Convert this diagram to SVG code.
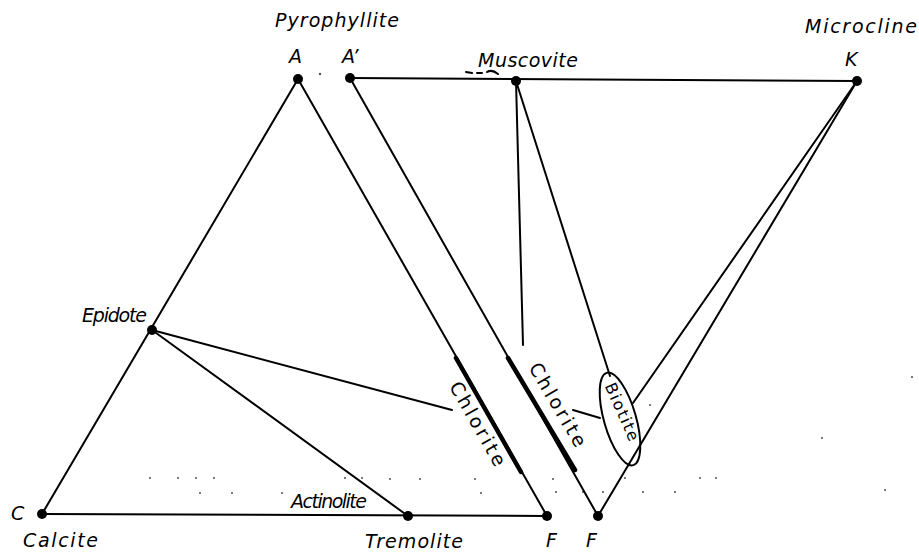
<svg xmlns="http://www.w3.org/2000/svg" width="919" height="553" viewBox="0 0 919 553">
<style>
.ln{stroke:#000;stroke-width:2;fill:none;stroke-linecap:round}
.thk{stroke:#000;stroke-width:4.5;fill:none;stroke-linecap:round}
.dot{fill:#000}
.spk{fill:#000;opacity:0.7}
text{font-family:"DejaVu Sans","Liberation Sans",sans-serif;font-style:oblique;font-size:19px;fill:#000}
.up{font-style:normal}
</style>
<rect width="919" height="553" fill="#fff"/>
<g id="connectors">
<line class="ln" x1="298" y1="79" x2="42" y2="514"/>
<line class="ln" x1="298" y1="79" x2="547" y2="516"/>
<line class="ln" x1="42" y1="514" x2="547" y2="516"/>
<line class="ln" x1="152" y1="330" x2="408" y2="516"/>
<line class="ln" x1="152" y1="330" x2="452" y2="410"/>
<line class="thk" x1="456" y1="358" x2="521" y2="472"/>
<line class="ln" x1="350" y1="78" x2="857" y2="81"/>
<line class="ln" x1="350" y1="78" x2="598" y2="516"/>
<line class="thk" x1="508" y1="358" x2="575" y2="470"/>
<line class="ln" x1="516" y1="81" x2="523" y2="345"/>
<line class="ln" x1="516" y1="81" x2="610" y2="376"/>
<line class="ln" x1="857" y1="81" x2="598" y2="516"/>
<line class="ln" x1="857" y1="81" x2="633" y2="403"/>
<line class="ln" x1="573" y1="410" x2="600" y2="418"/>
<path class="ln" d="M466 72 L472 73 M477 73 L482 73 M487 72 Q492 69 498 74" stroke-width="1.5"/>
</g>
<g id="specks">
<circle class="spk" cx="320" cy="74" r="1.2"/>
<circle class="spk" cx="150" cy="478" r="1"/><circle class="spk" cx="178" cy="478" r="1"/><circle class="spk" cx="196" cy="478" r="1"/><circle class="spk" cx="214" cy="478" r="1"/><circle class="spk" cx="345" cy="478" r="1"/><circle class="spk" cx="362" cy="478" r="1"/><circle class="spk" cx="390" cy="479" r="1"/><circle class="spk" cx="420" cy="479" r="1"/><circle class="spk" cx="475" cy="479" r="1"/><circle class="spk" cx="553" cy="479" r="1"/><circle class="spk" cx="625" cy="478" r="1"/><circle class="spk" cx="700" cy="478" r="1"/><circle class="spk" cx="716" cy="478" r="1"/>
<circle class="spk" cx="200" cy="493" r="1"/><circle class="spk" cx="232" cy="493" r="1"/><circle class="spk" cx="282" cy="493" r="1"/><circle class="spk" cx="481" cy="493" r="1"/><circle class="spk" cx="556" cy="492" r="1"/><circle class="spk" cx="583" cy="492" r="1"/><circle class="spk" cx="643" cy="492" r="1"/><circle class="spk" cx="675" cy="492" r="1"/><circle class="spk" cx="822" cy="438" r="1"/><circle class="spk" cx="912" cy="377" r="1"/><circle class="spk" cx="885" cy="490" r="1"/><circle class="spk" cx="650" cy="405" r="1"/><circle class="spk" cx="603" cy="492" r="1"/>
</g>
<g id="A"><circle class="dot" cx="298" cy="79" r="5"/><text x="289" y="63">A</text><text x="275" y="27" textLength="124">Pyrophyllite</text></g>
<g id="A2"><circle class="dot" cx="350" cy="78" r="5"/><text x="342" y="63">A’</text></g>
<g id="K"><circle class="dot" cx="857" cy="81" r="5"/><text x="845" y="66">K</text><text x="805" y="33" textLength="112">Microcline</text></g>
<g id="Muscovite"><circle class="dot" cx="516" cy="81" r="5"/><text x="478" y="67" textLength="100">Muscovite</text></g>
<g id="Epidote"><circle class="dot" cx="152" cy="330" r="5"/><text x="82" y="322" textLength="65">Epidote</text></g>
<g id="C"><circle class="dot" cx="42" cy="514" r="5"/><text x="11" y="520">C</text><text x="23" y="547" textLength="75">Calcite</text></g>
<g id="Tremolite"><circle class="dot" cx="408" cy="516" r="5"/><text x="365" y="548" textLength="98">Tremolite</text></g>
<g id="Actinolite"><text x="291" y="508" textLength="76">Actinolite</text></g>
<g id="F1"><circle class="dot" cx="547" cy="516" r="5"/><text x="546" y="547">F</text></g>
<g id="F2"><circle class="dot" cx="598" cy="516" r="5"/><text x="586" y="547">F</text></g>
<g id="Chlorite1"><text class="up" transform="translate(472,427) rotate(60.4)" text-anchor="middle" textLength="94">Chlorite</text></g>
<g id="Chlorite2"><text class="up" transform="translate(552,408) rotate(59.5)" text-anchor="middle" textLength="94">Chlorite</text></g>
<g id="Biotite"><ellipse class="ln" cx="620" cy="419" rx="48" ry="16" transform="rotate(74 620 419)" stroke-width="1.6"/><text class="up" transform="translate(617,414) rotate(66)" text-anchor="middle" textLength="62" style="font-size:16px">Biotite</text></g>
</svg>
